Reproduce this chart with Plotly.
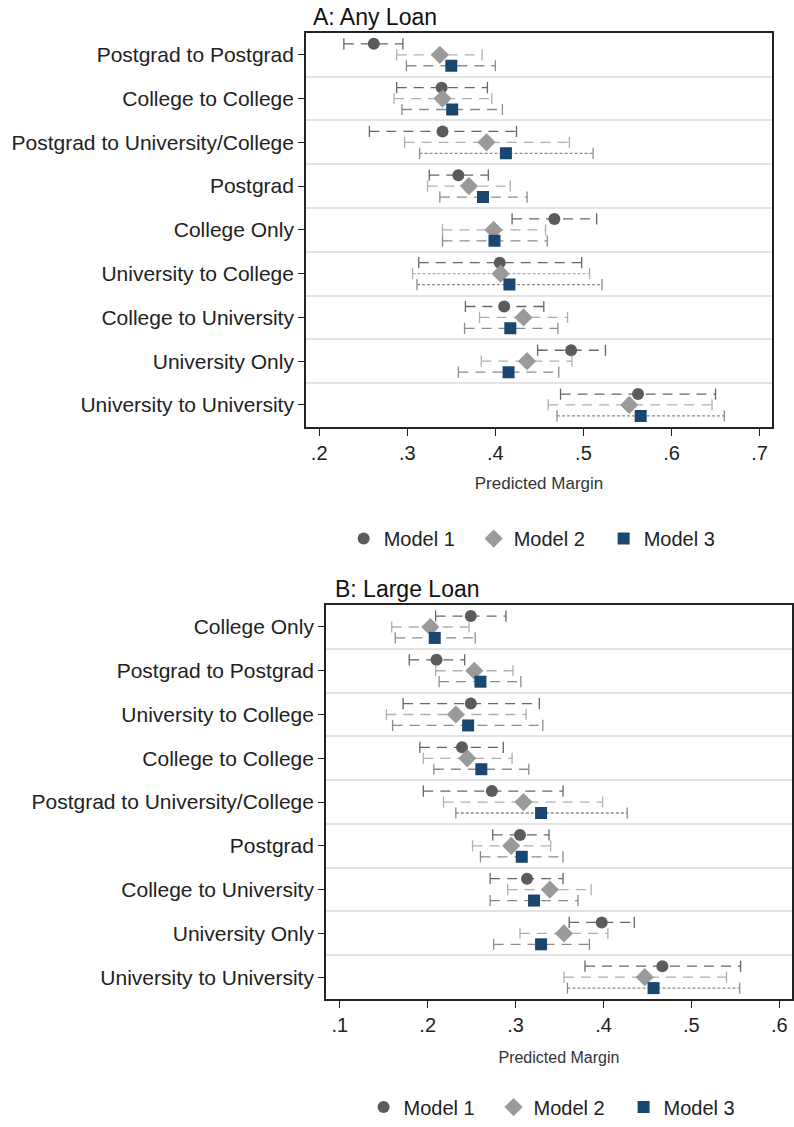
import plotly.graph_objects as go

# ---------------- DATA ----------------
cats_a = ["Postgrad to Postgrad", "College to College", "Postgrad to University/College",
          "Postgrad", "College Only", "University to College", "College to University",
          "University Only", "University to University"]
m1_a = [0.262, 0.339, 0.340, 0.358, 0.467, 0.405, 0.410, 0.486, 0.562]
m1_a_lo = [0.228, 0.288, 0.257, 0.325, 0.419, 0.313, 0.366, 0.448, 0.474]
m1_a_hi = [0.295, 0.391, 0.424, 0.392, 0.515, 0.498, 0.455, 0.525, 0.650]
m2_a = [0.337, 0.340, 0.390, 0.370, 0.398, 0.406, 0.432, 0.436, 0.552]
m2_a_lo = [0.288, 0.285, 0.297, 0.323, 0.340, 0.306, 0.382, 0.384, 0.460]
m2_a_hi = [0.385, 0.396, 0.484, 0.417, 0.457, 0.507, 0.482, 0.487, 0.646]
m3_a = [0.350, 0.351, 0.412, 0.386, 0.399, 0.416, 0.417, 0.415, 0.565]
m3_a_lo = [0.299, 0.294, 0.314, 0.337, 0.340, 0.311, 0.365, 0.358, 0.470]
m3_a_hi = [0.400, 0.408, 0.511, 0.436, 0.459, 0.521, 0.471, 0.472, 0.660]

cats_b = ["College Only", "Postgrad to Postgrad", "University to College", "College to College",
          "Postgrad to University/College", "Postgrad", "College to University",
          "University Only", "University to University"]
m1_b = [0.249, 0.210, 0.249, 0.239, 0.273, 0.305, 0.313, 0.398, 0.467]
m1_b_lo = [0.209, 0.179, 0.172, 0.191, 0.195, 0.274, 0.271, 0.361, 0.379]
m1_b_hi = [0.289, 0.242, 0.327, 0.286, 0.354, 0.338, 0.354, 0.435, 0.556]
m2_b = [0.203, 0.253, 0.232, 0.245, 0.309, 0.295, 0.339, 0.355, 0.447]
m2_b_lo = [0.159, 0.209, 0.153, 0.195, 0.218, 0.251, 0.291, 0.305, 0.355]
m2_b_hi = [0.247, 0.297, 0.312, 0.296, 0.399, 0.340, 0.386, 0.405, 0.540]
m3_b = [0.208, 0.260, 0.246, 0.261, 0.329, 0.307, 0.321, 0.329, 0.457]
m3_b_lo = [0.163, 0.213, 0.160, 0.207, 0.232, 0.260, 0.271, 0.275, 0.359]
m3_b_hi = [0.254, 0.306, 0.331, 0.315, 0.427, 0.354, 0.371, 0.384, 0.555]

model_names = ["Model 1", "Model 2", "Model 3"]
ticks_a = [0.2, 0.3, 0.4, 0.5, 0.6, 0.7]
ticklabels_a = [".2", ".3", ".4", ".5", ".6", ".7"]
ticks_b = [0.1, 0.2, 0.3, 0.4, 0.5, 0.6]
ticklabels_b = [".1", ".2", ".3", ".4", ".5", ".6"]

# ---------------- STYLE ----------------
FONT = "Liberation Sans, Arial, Helvetica, sans-serif"
offsets = [-0.25, 0.0, 0.25]
marker_symbols = ["circle", "diamond", "square"]
marker_sizes = [12, 14, 12]
marker_colors = ["#5b5b5b", "#9a9a9a", "#1a476f"]
line_colors = ["#666666", "#b0b0b0", "#8c8c8c"]
dash_normal = "10px,7px"
dash_dense = "3px,2px"
# bars drawn with the dense dash pattern: (model index, row index)
dense_a = {(2, 2), (1, 5), (2, 5), (2, 8)}
dense_b = {(2, 4), (2, 8)}

fig = go.Figure()


def add_panel(cats, ests, los, his, xa, ya, legend, dense):
    for k in range(3):
        segs = {"n": ([], []), "d": ([], [])}
        capx, capy = [], []
        for i in range(len(cats)):
            key = "d" if (k, i) in dense else "n"
            y = i + offsets[k]
            segs[key][0].extend([los[k][i], his[k][i], None])
            segs[key][1].extend([y, y, None])
            capx.extend([los[k][i], his[k][i]])
            capy.extend([y, y])
        for key, dash in (("n", dash_normal), ("d", dash_dense)):
            if segs[key][0]:
                fig.add_trace(go.Scatter(
                    x=segs[key][0], y=segs[key][1], mode="lines", xaxis=xa, yaxis=ya,
                    line=dict(color=line_colors[k], width=1.3, dash=dash),
                    showlegend=False, hoverinfo="skip", connectgaps=False))
        fig.add_trace(go.Scatter(
            x=capx, y=capy, mode="markers", xaxis=xa, yaxis=ya,
            marker=dict(symbol="line-ns", size=8,
                        line=dict(color=line_colors[k], width=1.3)),
            showlegend=False, hoverinfo="skip"))
        fig.add_trace(go.Scatter(
            x=ests[k], y=[i + offsets[k] for i in range(len(cats))],
            mode="markers", xaxis=xa, yaxis=ya, name=model_names[k], legend=legend,
            marker=dict(symbol=marker_symbols[k], size=marker_sizes[k],
                        color=marker_colors[k], line=dict(width=0))))


add_panel(cats_a, [m1_a, m2_a, m3_a], [m1_a_lo, m2_a_lo, m3_a_lo],
          [m1_a_hi, m2_a_hi, m3_a_hi], "x", "y", "legend", dense_a)
add_panel(cats_b, [m1_b, m2_b, m3_b], [m1_b_lo, m2_b_lo, m3_b_lo],
          [m1_b_hi, m2_b_hi, m3_b_hi], "x2", "y2", "legend2", dense_b)

W, H = 794, 1127


def yaxis_cfg(cats, domain):
    n = len(cats)
    return dict(domain=domain, range=[n - 0.5, -0.5],
                tickvals=list(range(n)), ticktext=cats,
                ticks="outside", ticklen=6, tickcolor="#222", tickwidth=1.2,
                showline=True, linecolor="#222", linewidth=1.5, mirror=True,
                showgrid=False, zeroline=False,
                tickfont=dict(family=FONT, size=21, color="#222"),
                minor=dict(tickvals=[i + 0.5 for i in range(n - 1)], showgrid=True,
                           gridcolor="#e3e3e3", gridwidth=2, ticks=""))


def xaxis_cfg(domain, rng, tv, tt, anchor, tsize, standoff):
    return dict(domain=domain, range=rng, tickvals=tv, ticktext=tt, anchor=anchor,
                ticks="outside", ticklen=7, tickcolor="#222", tickwidth=1.2,
                showline=True, linecolor="#222", linewidth=1.5, mirror=True,
                showgrid=False, zeroline=False,
                tickfont=dict(family=FONT, size=20, color="#222"),
                title=dict(text="Predicted Margin", standoff=standoff,
                           font=dict(family=FONT, size=tsize, color="#333")))


fig.update_layout(
    width=W, height=H, paper_bgcolor="white", plot_bgcolor="white",
    margin=dict(l=0, r=0, t=0, b=0),
    xaxis=xaxis_cfg([306.7 / W, 774 / W], [0.18494, 0.71416], ticks_a, ticklabels_a, "y", 17, 14),
    yaxis=yaxis_cfg(cats_a, [1 - 428 / H, 1 - 33 / H]),
    xaxis2=xaxis_cfg([326.7 / W, 1.0], [0.08411, 0.61453], ticks_b, ticklabels_b, "y2", 16, 17),
    yaxis2=dict(yaxis_cfg(cats_b, [1 - 1001.7 / H, 1 - 606.7 / H]), anchor="x2"),
    legend=dict(orientation="h", x=540 / W, xanchor="center", y=1 - 540 / H, yanchor="middle",
                font=dict(family=FONT, size=20, color="#222"),
                entrywidth=85, entrywidthmode="pixels", bgcolor="rgba(0,0,0,0)"),
    legend2=dict(orientation="h", x=560 / W, xanchor="center", y=1 - 1110 / H, yanchor="middle",
                 font=dict(family=FONT, size=20, color="#222"),
                 entrywidth=85, entrywidthmode="pixels", bgcolor="rgba(0,0,0,0)"),
    annotations=[
        dict(text="A: Any Loan", x=312 / W, y=1 - 17 / H, xref="paper", yref="paper",
             xanchor="left", yanchor="middle", showarrow=False,
             font=dict(family=FONT, size=23, color="#111")),
        dict(text="B: Large Loan", x=334 / W, y=1 - 591 / H, xref="paper", yref="paper",
             xanchor="left", yanchor="middle", showarrow=False,
             font=dict(family=FONT, size=23, color="#111")),
    ],
)

fig.write_html("out.html", config={"displayModeBar": False},
               post_script="document.body.style.margin='0';")
